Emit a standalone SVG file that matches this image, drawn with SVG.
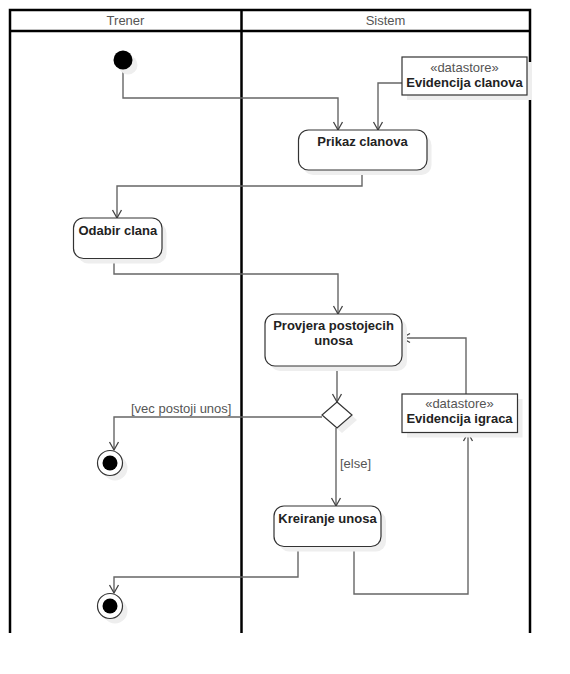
<svg xmlns="http://www.w3.org/2000/svg" width="570" height="674" viewBox="0 0 570 674">
<style>
.lane{stroke:#000;stroke-width:2.5;fill:none}
.hdr{font-family:"Liberation Sans",Arial,sans-serif;font-size:13px;fill:#555;text-anchor:middle}
.node{fill:#fff;stroke:#333;stroke-width:1.2}
.shadow{fill:#eee;stroke:none}
.lbl{font-family:"Liberation Sans",Arial,sans-serif;font-size:13px;font-weight:bold;fill:#222;text-anchor:middle}
.st{font-family:"Liberation Sans",Arial,sans-serif;font-size:13px;fill:#555;text-anchor:middle}
.guard{font-family:"Liberation Sans",Arial,sans-serif;font-size:13px;fill:#555}
.edge{fill:none;stroke:#666;stroke-width:1.4;marker-end:url(#arr)}
</style>
<defs>
<marker id="arr" markerUnits="userSpaceOnUse" markerWidth="20" markerHeight="20" viewBox="-10 -10 20 20" refX="0" refY="0" orient="auto" overflow="visible">
<path d="M-8,-4.5 L0,0 L-8,4.5" fill="none" stroke="#444" stroke-width="1.3"/>
</marker>
</defs>
<rect width="570" height="674" fill="#fff"/>
<g id="swimlanes">
<path class="lane" d="M10,633 V10 H530 V633 M10,31 H530 M241.5,10 V633"/>
<text class="hdr" x="125.5" y="25">Trener</text>
<text class="hdr" x="385.5" y="25">Sistem</text>
</g>
<g id="connectors">
<path class="edge" d="M123,70 V98 H338 V130"/>
<path class="edge" d="M402,83 H378 V130"/>
<path class="edge" d="M362,170 V186 H117 V218"/>
<path class="edge" d="M114,258 V274 H338 V314"/>
<path class="edge" d="M337,366 V402"/>
<path class="edge" d="M322,417 H114 V450"/>
<path class="edge" d="M336,428 V506"/>
<path class="edge" d="M298,546 V577 H114 V593"/>
<path class="edge" d="M354,546 V594 H468 V433"/>
<path class="edge" d="M466,394 V338 H402"/>
<text class="guard" x="131" y="413">[vec postoji unos]</text>
<text class="guard" x="340" y="468">[else]</text>
</g>
<g id="initial">
<circle class="shadow" cx="128" cy="65" r="9.5"/>
<circle cx="123" cy="60" r="9.5" fill="#000"/>
</g>
<g id="ds-clanova">
<rect class="shadow" x="407" y="62" width="125" height="38"/>
<rect class="node" x="402" y="57" width="125" height="38"/>
<text class="st" x="464.5" y="72">«datastore»</text>
<text class="lbl" x="464.5" y="87">Evidencija clanova</text>
</g>
<g id="prikaz">
<rect class="shadow" x="303" y="135" width="128.5" height="40" rx="10"/>
<rect class="node" x="298.5" y="130" width="128.5" height="40" rx="10"/>
<text class="lbl" x="362.5" y="146">Prikaz clanova</text>
</g>
<g id="odabir">
<rect class="shadow" x="78" y="223" width="88.5" height="40.5" rx="10"/>
<rect class="node" x="73.5" y="218" width="88.5" height="40.5" rx="10"/>
<text class="lbl" x="117.8" y="235">Odabir clana</text>
</g>
<g id="provjera">
<rect class="shadow" x="270" y="319" width="137" height="52" rx="10"/>
<rect class="node" x="265" y="314" width="137" height="52" rx="10"/>
<text class="lbl" x="333.5" y="330">Provjera postojecih</text>
<text class="lbl" x="333.5" y="344.5">unosa</text>
</g>
<g id="decision">
<path class="shadow" d="M342,407 L357,420 L342,433 L327,420 Z"/>
<path class="node" d="M337,402 L352,415 L337,428 L322,415 Z"/>
</g>
<g id="ds-igraca">
<rect class="shadow" x="407" y="399" width="115.5" height="38.5"/>
<rect class="node" x="402" y="394" width="115.5" height="38.5"/>
<text class="st" x="459.5" y="408.3">«datastore»</text>
<text class="lbl" x="459.5" y="422.7">Evidencija igraca</text>
</g>
<g id="final1">
<circle class="shadow" cx="115" cy="468" r="12.5"/>
<circle class="node" cx="110" cy="463" r="12.5"/>
<circle cx="110" cy="463" r="7.5" fill="#000"/>
</g>
<g id="kreiranje">
<rect class="shadow" x="279" y="511" width="107" height="40.5" rx="10"/>
<rect class="node" x="274" y="506" width="107" height="40.5" rx="10"/>
<text class="lbl" x="327.5" y="523.3">Kreiranje unosa</text>
</g>
<g id="final2">
<circle class="shadow" cx="115" cy="611" r="12.5"/>
<circle class="node" cx="110" cy="606" r="12.5"/>
<circle cx="110" cy="606" r="7.5" fill="#000"/>
</g>
</svg>
